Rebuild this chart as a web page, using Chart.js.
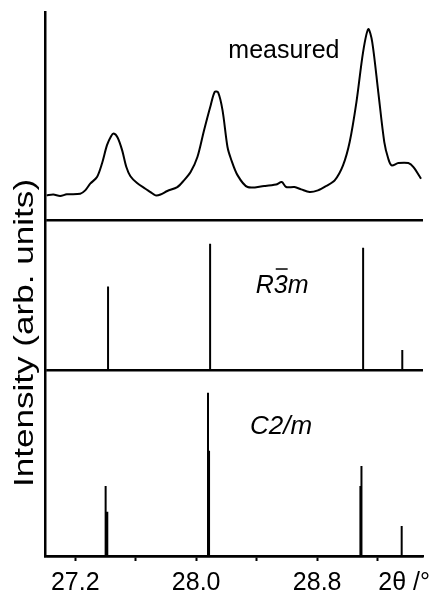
<!DOCTYPE html>
<html>
<head>
<meta charset="utf-8">
<script src="https://cdn.jsdelivr.net/npm/chart.js@4.4.1/dist/chart.umd.min.js"></script>
<style>
  html, body { margin: 0; padding: 0; background: #fff; }
</style>
</head>
<body>
<canvas id="xrd" width="440" height="591"></canvas>
<script>
// --- data ---

// measured pattern (2θ in degrees, intensity in arb. units)
const measuredTwoTheta = [
  27.011, 27.055, 27.100, 27.144, 27.233, 27.266, 27.299, 27.344, 27.377, 27.410,
  27.437, 27.454, 27.480, 27.510, 27.538, 27.565, 27.609, 27.664, 27.698, 27.731,
  27.764, 27.809, 27.875, 27.919, 27.963, 28.008, 28.052, 28.096, 28.123, 28.145,
  28.174, 28.207, 28.229, 28.274, 28.340, 28.450, 28.528, 28.566, 28.595, 28.650,
  28.694, 28.750, 28.805, 28.860, 28.916, 28.971, 29.015, 29.060, 29.104, 29.138,
  29.164, 29.204, 29.244, 29.270, 29.292, 29.337, 29.403, 29.437, 29.487
];
const measuredIntensity = [
  12.0, 12.4, 11.7, 12.5, 12.8, 14.4, 17.6, 20.8, 27.3, 36.1,
  40.4, 41.7, 39.8, 33.7, 25.6, 21.2, 17.9, 15.2, 13.6, 12.0,
  12.4, 14.1, 16.0, 19.2, 23.2, 30.4, 43.3, 55.3, 61.7, 61.4,
  52.9, 35.2, 29.7, 21.6, 16.0, 16.5, 17.2, 18.4, 16.0, 16.0,
  14.9, 13.6, 14.4, 16.5, 19.2, 26.4, 37.6, 56.9, 80.9, 91.8,
  85.7, 61.7, 37.6, 29.7, 26.4, 27.5, 27.5, 25.6, 20.0
];

// calculated reflections, R-3m
const r3mPositions = [27.417, 28.092, 29.104, 29.363];
const r3mIntensities = [56.0, 84.5, 81.8, 13.8];

// calculated reflections, C2/m
const c2mPositions = [27.401, 27.412, 28.078, 28.085, 29.086, 29.093, 29.359];
const c2mIntensities = [37.8, 23.9, 88.1, 56.8, 37.8, 48.6, 16.2];

// axis ticks
const xTickValues = [27.2, 27.6, 28.0, 28.4, 28.8, 29.2];
const xTickLabels = ['27.2', '', '28.0', '', '28.8', ''];
const xUnitLabel = '2θ /°';
const yAxisLabel = 'Intensity (arb. units)';

// --- helpers ---

const FONT = '"Liberation Sans", Arial, Helvetica, sans-serif';

// each reflection becomes a vertical segment from 0 up to its intensity
function sticks(positions, intensities) {
  const pts = [];
  positions.forEach((p, i) => {
    pts.push({ x: p, y: 0 }, { x: p, y: intensities[i] }, { x: p, y: null });
  });
  return pts;
}

function panelAxis(weight) {
  return {
    type: 'linear',
    position: 'left',
    stack: 'panels',
    stackWeight: weight,
    min: 0,
    max: 100,
    afterBuildTicks: s => { s.ticks = [{ value: 0 }]; }, // only the baseline
    ticks: { display: false },
    grid: { color: '#000', lineWidth: 2.5, drawTicks: false },
    border: { color: '#000', width: 2.5 }
  };
}

// text inside the panels, y label and the 2θ unit
const textPlugin = {
  id: 'panelText',
  afterDraw(chart) {
    const { ctx, chartArea, scales } = chart;
    const x = scales.x;
    ctx.save();
    ctx.fillStyle = '#000';
    ctx.strokeStyle = '#000';
    ctx.textBaseline = 'alphabetic';

    ctx.font = '25px ' + FONT;
    ctx.textAlign = 'center';
    ctx.fillText('measured', x.getPixelForValue(28.58), scales.yM.getPixelForValue(78));

    // R3m with a bar over the 3
    ctx.font = 'italic 25px ' + FONT;
    ctx.textAlign = 'left';
    const wR = ctx.measureText('R').width;
    const w3 = ctx.measureText('3').width;
    const wm = ctx.measureText('m').width;
    const rx = x.getPixelForValue(28.568) - (wR + w3 + wm) / 2;
    const ry = scales.yR.getPixelForValue(52);
    ctx.fillText('R', rx, ry);
    ctx.fillText('3', rx + wR, ry);
    ctx.fillText('m', rx + wR + w3, ry);
    ctx.lineWidth = 1.5;
    ctx.beginPath();
    ctx.moveTo(rx + wR + 2, ry - 23.5);
    ctx.lineTo(rx + wR + w3, ry - 23.5);
    ctx.stroke();

    ctx.textAlign = 'center';
    ctx.font = 'italic 26px ' + FONT;
    ctx.fillText('C2/m', x.getPixelForValue(28.561), scales.yC.getPixelForValue(66));

    // unit label on the x axis line
    ctx.font = '25px ' + FONT;
    ctx.textAlign = 'right';
    ctx.fillText(xUnitLabel, chartArea.right + 7, 590);

    // y label, a bit elongated as in the source figure
    ctx.font = '27px ' + FONT;
    ctx.textAlign = 'center';
    ctx.translate(33, 333);
    ctx.rotate(-Math.PI / 2);
    ctx.scale(1.3, 1);
    ctx.fillText(yAxisLabel, 0, 0);
    ctx.restore();
  }
};

// --- chart ---

new Chart(document.getElementById('xrd'), {
  type: 'line',
  data: {
    datasets: [
      {
        label: 'measured',
        data: measuredTwoTheta.map((t, i) => ({ x: t, y: measuredIntensity[i] })),
        yAxisID: 'yM',
        borderColor: '#000',
        borderWidth: 2,
        pointRadius: 0,
        tension: 0.3
      },
      {
        label: 'R-3m',
        data: sticks(r3mPositions, r3mIntensities),
        yAxisID: 'yR',
        borderColor: '#000',
        borderWidth: 2,
        pointRadius: 0,
        spanGaps: false
      },
      {
        label: 'C2/m',
        data: sticks(c2mPositions, c2mIntensities),
        yAxisID: 'yC',
        borderColor: '#000',
        borderWidth: 2,
        pointRadius: 0,
        spanGaps: false
      }
    ]
  },
  options: {
    responsive: false,
    animation: false,
    devicePixelRatio: 1,
    layout: { padding: { top: 12, right: 17, bottom: -14, left: 45 } },
    plugins: {
      legend: { display: false },
      tooltip: { enabled: false }
    },
    scales: {
      x: {
        type: 'linear',
        min: 27.0,
        max: 29.5,
        afterBuildTicks: s => { s.ticks = xTickValues.map(v => ({ value: v })); },
        ticks: {
          autoSkip: false,
          maxRotation: 0,
          color: '#000',
          padding: 13,
          font: { family: FONT, size: 25, lineHeight: 0.72 },
          callback: v => {
            const i = xTickValues.findIndex(t => Math.abs(t - v) < 1e-6);
            return i >= 0 ? xTickLabels[i] : '';
          }
        },
        grid: { drawOnChartArea: false, drawTicks: true, tickLength: 5, tickWidth: 2, color: '#000' },
        border: { color: '#000', width: 2.5 }
      },
      // stacked panels: first listed ends up at the bottom
      yC: panelAxis(185),
      yR: panelAxis(150),
      yM: panelAxis(208)
    }
  },
  plugins: [textPlugin]
});
</script>
</body>
</html>
